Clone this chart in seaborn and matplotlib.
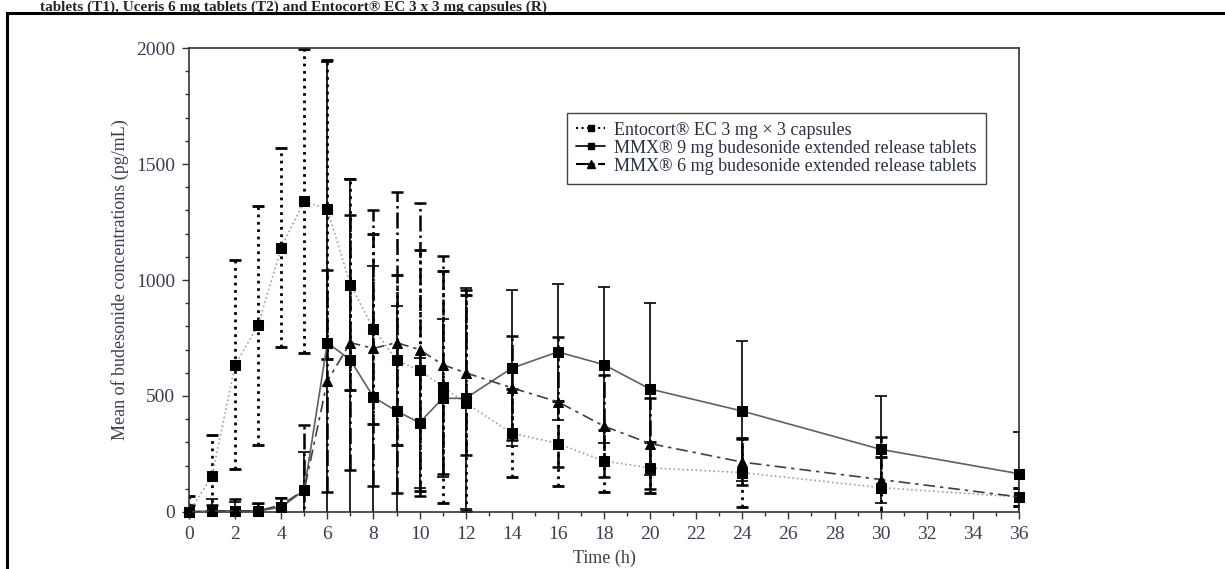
import pandas as pd
import matplotlib.pyplot as plt
import seaborn as sns
from matplotlib.lines import Line2D
from matplotlib.patches import Rectangle

# Mean plasma budesonide concentration (pg/mL) with SD
time_h = [0, 1, 2, 3, 4, 5, 6, 7, 8, 9, 10, 11, 12, 14, 16, 18, 20, 24, 30, 36]
ento_mean = [0, 155, 635, 805, 1140, 1340, 1305, 980, 790, 655, 610, 540, 470, 340, 295, 220, 190, 170, 105, 65]
ento_sd = [70, 175, 450, 515, 430, 655, 645, 455, 410, 365, 520, 500, 465, 190, 185, 135, 110, 150, 130, 40]
mmx9_mean = [0, 5, 5, 5, 20, 95, 730, 655, 495, 435, 385, 490, 490, 620, 690, 635, 530, 435, 270, 165]
mmx9_sd = [20, 50, 40, 30, 40, 165, 1210, 780, 565, 455, 280, 340, 475, 335, 293, 336, 370, 300, 230, 178]
mmx6_mean = [0, 5, 5, 5, 30, 95, 565, 730, 705, 730, 700, 635, 600, 535, 475, 370, 295, 215, 140, 65]
mmx6_sd = [30, 25, 50, 35, 30, 280, 480, 550, 595, 650, 630, 470, 355, 225, 280, 220, 195, 100, 185, 40]

labels = ["Entocort® EC 3 mg × 3 capsules",
          "MMX® 9 mg budesonide extended release tablets",
          "MMX® 6 mg budesonide extended release tablets"]
title_text = "tablets (T1), Uceris 6 mg tablets (T2) and Entocort® EC 3 x 3 mg capsules (R)"

sns.set_style("ticks")
plt.rcParams['font.family'] = ['Liberation Serif', 'DejaVu Serif']

df = pd.DataFrame({"Time": time_h * 3,
                   "Conc": ento_mean + mmx9_mean + mmx6_mean,
                   "SD": ento_sd + mmx9_sd + mmx6_sd,
                   "Treatment": [labels[0]] * len(time_h) + [labels[1]] * len(time_h) + [labels[2]] * len(time_h)})

fig = plt.figure(figsize=(12.25, 5.69), dpi=100)
ax = fig.add_axes([0.1543, 0.1002, 0.6775, 0.8154])

# line style, line colour, marker, error bar style, error bar width
styles = {labels[0]: (":", "#a0a0a0", "s", ":", 2.0),
          labels[1]: ("-", "#606060", "s", "-", 1.2),
          labels[2]: ((0, (7, 3, 2, 3)), "#404040", "^", "-.", 1.8)}

for lab in labels:
    sub = df[df["Treatment"] == lab]
    ls, col, mk, els, elw = styles[lab]
    eb = ax.errorbar(sub["Time"], sub["Conc"], yerr=sub["SD"], fmt="none", ecolor="black",
                     elinewidth=elw, capsize=4, capthick=elw, zorder=2)
    eb[2][0].set_linestyle(els)
    sns.lineplot(data=sub, x="Time", y="Conc", ax=ax, color=col, linestyle=ls, linewidth=1.2,
                 marker=mk, markersize=7, markerfacecolor="black", markeredgecolor="black",
                 errorbar=None, zorder=3, clip_on=False)

ax.set_xlim(0, 36)
ax.set_ylim(0, 2000)
ax.set_xticks(range(0, 37, 2))
ax.set_xticks(range(0, 37, 1), minor=True)
ax.set_yticks([0, 500, 1000, 1500, 2000])
ax.set_yticks(range(0, 2001, 100), minor=True)
ax.tick_params(axis="both", which="major", length=5, width=1, direction="out", pad=5,
               labelsize=14, labelcolor="#3a3f50", color="#333333")
ax.tick_params(axis="both", which="minor", length=3, width=1, direction="out", color="#333333")
for sp in ax.spines.values():
    sp.set_visible(True)
    sp.set_color("#333333")
    sp.set_linewidth(1.2)

ax.set_xlabel("Time (h)", fontsize=13, color="#3a3f50", labelpad=5)
ax.set_ylabel("Mean of budesonide concentrations (pg/mL)", fontsize=13, color="#3a3f50", labelpad=5)

handles = [Line2D([], [], color="black", linestyle=":", marker="s", markersize=5, linewidth=1.5),
           Line2D([], [], color="black", linestyle="-", marker="s", markersize=5, linewidth=1.2),
           Line2D([], [], color="black", linestyle="-.", marker="^", markersize=6, linewidth=1.5)]
leg = ax.legend(handles, labels, loc="upper left", bbox_to_anchor=(0.445, 0.88), fontsize=13,
                frameon=True, fancybox=False, framealpha=1, edgecolor="#444444",
                handlelength=1.6, handletextpad=0.5, labelspacing=0.05, borderpad=0.5)
leg.get_frame().set_linewidth(1.0)
for t in leg.get_texts():
    t.set_color("#2a3040")

# page frame and caption line from the source document
fig.add_artist(Rectangle((0.0057, -0.05), 1.2, 1 - 13 / 569 + 0.05, transform=fig.transFigure,
                         fill=False, edgecolor="black", linewidth=2.2, clip_on=False))
fig.text(0.033, 1 - 11 / 569, title_text, fontsize=11, fontweight="bold", va="baseline", ha="left")

plt.savefig("out.png", dpi=100)
